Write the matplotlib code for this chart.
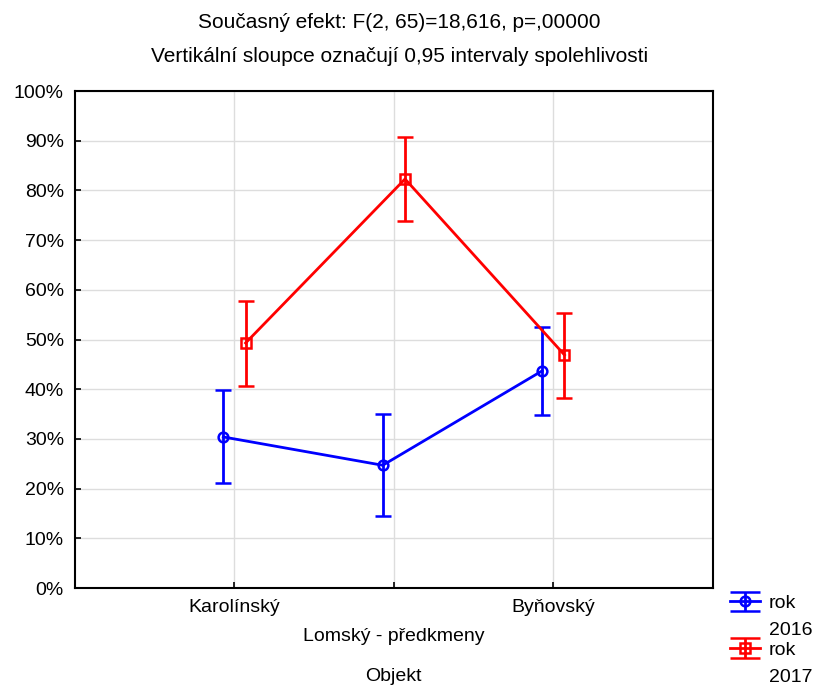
import numpy as np
import matplotlib
matplotlib.use("Agg")
import matplotlib.pyplot as plt
from matplotlib.lines import Line2D
from matplotlib.legend_handler import HandlerErrorbar

plt.rcParams['font.family'] = ['Liberation Sans', 'DejaVu Sans']
plt.rcParams['font.size'] = 14

# mean share (%) and 0.95 confidence limits per site and year
objekty = ['Karolínský', '\nLomský - předkmeny', 'Byňovský']
rok2016 = [30.4, 24.7, 43.7]
rok2016_hi = [39.8, 35.0, 52.5]
rok2016_lo = [21.1, 14.5, 34.8]
rok2017 = [49.3, 82.3, 46.9]
rok2017_hi = [57.7, 90.7, 55.3]
rok2017_lo = [40.6, 73.8, 38.2]

x = np.arange(1, len(objekty) + 1)
shift = 0.07

fig = plt.figure(figsize=(8.24, 6.88), dpi=100)
ax = fig.add_axes([0.091, 0.1453, 0.774, 0.7224])

def ci(m, lo, hi):
    m, lo, hi = np.array(m), np.array(lo), np.array(hi)
    return [m - lo, hi - m]

e1 = ax.errorbar(x - shift, rok2016, yerr=ci(rok2016, rok2016_lo, rok2016_hi),
                 color='blue', marker='o', ms=7, mfc='none', mew=1.8, lw=2,
                 capsize=6, capthick=2, elinewidth=2, label='rok')
e2 = ax.errorbar(x + shift, rok2017, yerr=ci(rok2017, rok2017_lo, rok2017_hi),
                 color='red', marker='s', ms=7, mfc='none', mew=1.8, lw=2,
                 capsize=6, capthick=2, elinewidth=2, label='rok')

ax.set_xlim(0, 4)
ax.set_ylim(0, 100)
ax.set_xticks(x)
ax.set_xticklabels(objekty, linespacing=1.9)
ax.set_yticks(np.arange(0, 101, 10))
ax.set_yticklabels(['%d%%' % v for v in range(0, 101, 10)])
ax.grid(True, color='#dddddd', lw=1)
ax.set_axisbelow(True)
ax.tick_params(direction='in', length=4, width=1.2, pad=8)
for s in ax.spines.values():
    s.set_linewidth(1.5)
ax.set_xlabel('Objekt', labelpad=17)

fig.text(0.485, 0.967, 'Současný efekt: F(2, 65)=18,616, p=,00000',
         ha='center', va='center', fontsize=15)
fig.text(0.485, 0.918, 'Vertikální sloupce označují 0,95 intervaly spolehlivosti',
         ha='center', va='center', fontsize=15)

# legend caps as wide as the handle line
def wide_caps(h, o):
    h.update_from(o)
    if isinstance(h, Line2D) and h.get_marker() == '_':
        h.set_markersize(22)

leg = fig.legend([e1, e2], ['rok', 'rok'], loc='upper left',
                 bbox_to_anchor=(0.886, 0.136), frameon=False,
                 handlelength=1.55, handletextpad=0.45, labelspacing=1.5,
                 borderaxespad=0, borderpad=0,
                 handler_map={type(e1): HandlerErrorbar(update_func=wide_caps)})

# second line of each legend label under the "rok"
fig.canvas.draw()
inv = fig.transFigure.inverted()
for t, yr in zip(leg.get_texts(), ['2016', '2017']):
    bb = t.get_window_extent()
    x0, y0 = inv.transform((bb.x0, bb.y0))
    fig.text(x0, y0 - 0.015, yr, ha='left', va='top')

fig.savefig('out.png', dpi=100)
